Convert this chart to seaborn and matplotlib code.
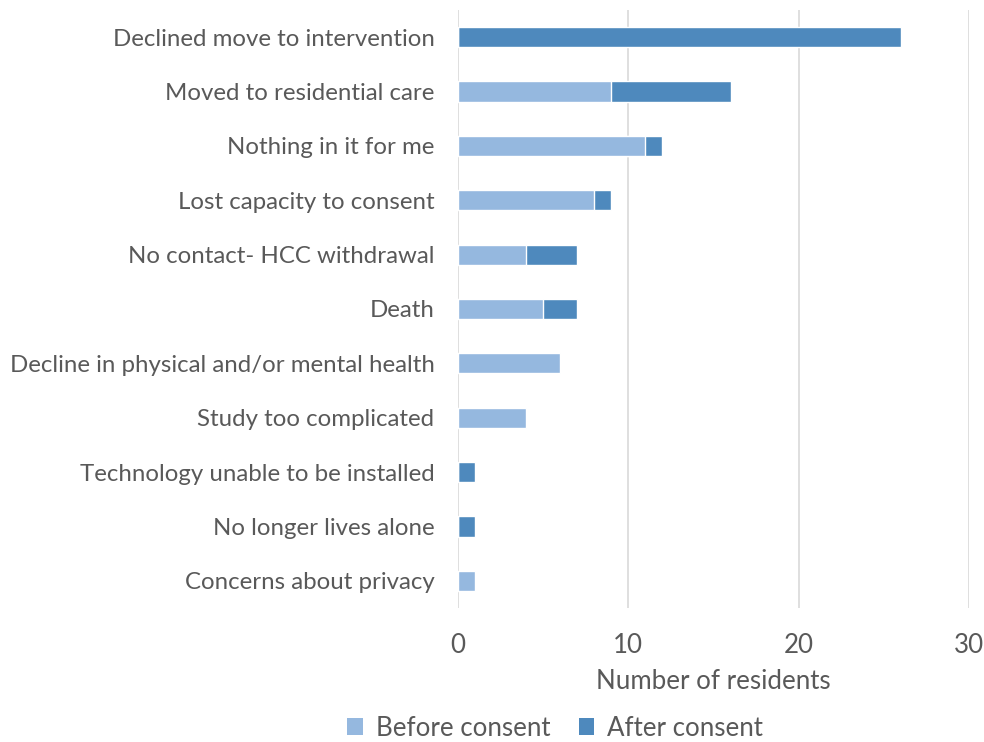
import matplotlib
matplotlib.use("Agg")
import matplotlib.pyplot as plt
from matplotlib.patches import Patch
import seaborn as sns
import pandas as pd

reasons = [
    "Declined move to intervention",
    "Moved to residential care",
    "Nothing in it for me",
    "Lost capacity to consent",
    "No contact- HCC withdrawal",
    "Death",
    "Decline in physical and/or mental health",
    "Study too complicated",
    "Technology unable to be installed",
    "No longer lives alone",
    "Concerns about privacy",
]
before_consent = [0, 9, 11, 8, 4, 5, 6, 4, 0, 0, 1]
after_consent = [26, 7, 1, 1, 3, 2, 0, 0, 1, 1, 0]

df = pd.DataFrame({
    "reason": reasons,
    "before": before_consent,
    "after": after_consent,
})
df["total"] = df["before"] + df["after"]

sns.set_theme(style="white")
plt.rcParams["font.family"] = ["Lato", "DejaVu Sans"]

light = "#95B8DF"
dark = "#4E89BD"
text_col = "#595959"
fs = 17.3
fs_big = 18.6

fig = plt.figure(figsize=(9.84, 7.42), dpi=100)
ax = fig.add_axes([458 / 984, 1 - 608 / 742, (969 - 458) / 984, 598 / 742])

sns.barplot(data=df, y="reason", x="total", order=reasons, color=dark,
            width=0.37, saturation=1, ax=ax, orient="h")
sns.barplot(data=df, y="reason", x="before", order=reasons, color=light,
            width=0.37, saturation=1, ax=ax, orient="h")

ax.set_xlim(0, 30)
ax.set_ylim(len(reasons) - 0.5, -0.5)
ax.set_xticks([0, 10, 20, 30])
ax.xaxis.grid(True, color="#D9D9D9", linewidth=1.2)
ax.set_axisbelow(True)
for s in ax.spines.values():
    s.set_visible(False)

ax.tick_params(axis="both", length=0, colors=text_col, labelsize=fs)
ax.tick_params(axis="x", pad=18, labelsize=fs_big)
ax.tick_params(axis="y", pad=17)
ax.set_ylabel("")
ax.set_xlabel("Number of residents", color=text_col, fontsize=fs_big, labelpad=8)

handles = [Patch(facecolor=light, edgecolor="none", label="Before consent"),
           Patch(facecolor=dark, edgecolor="none", label="After consent")]
fig.legend(handles=handles, loc="center", bbox_to_anchor=(555 / 984, 1 - 728 / 742),
           ncol=2, frameon=False, fontsize=fs_big, handlelength=0.6, handleheight=0.6,
           handletextpad=0.5, columnspacing=1.1, labelcolor=text_col)

fig.savefig("out.png", dpi=100)
